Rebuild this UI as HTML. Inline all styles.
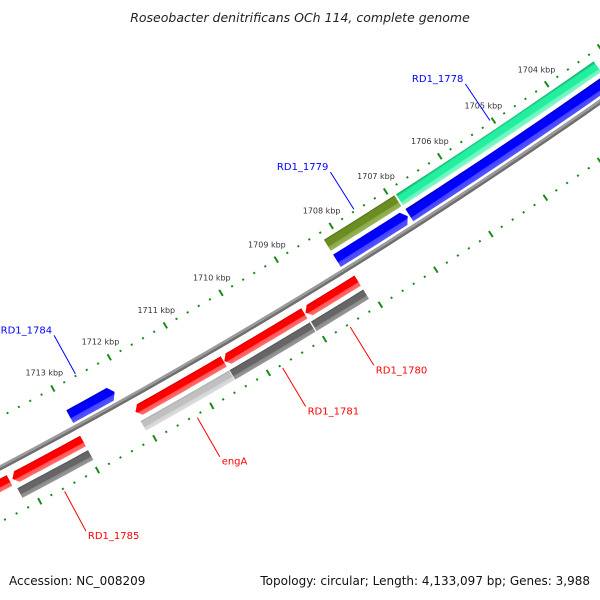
<!DOCTYPE html>
<html><head><meta charset="utf-8">
<style>
html,body{margin:0;padding:0;background:#fff;overflow:hidden;}
svg{display:block;font-family:"DejaVu Sans","Liberation Sans",sans-serif;}
</style></head>
<body>
<svg id="map" width="600" height="600" viewBox="0 0 600 600">
<rect width="600" height="600" fill="#fff"/>
<defs id="defs"></defs>
<g id="plot"></g>
<text x="300" y="22" text-anchor="middle" font-size="12.5" font-style="italic" fill="#222">Roseobacter denitrificans OCh 114, complete genome</text>
<text x="9" y="585" font-size="12" fill="#111">Accession: NC_008209</text>
<text x="590" y="585" text-anchor="end" font-size="12" fill="#111">Topology: circular; Length: 4,133,097 bp; Genes: 3,988</text>
</svg>
<script>
// ---- data (kbp) ----
const geneNames  = ['RD1_1778','RD1_1779','RD1_1784','RD1_1780','RD1_1781','engA','RD1_1785','RD1_1786'];
const geneHigh   = [1706.89, 1708.21, 1712.98, 1709.04, 1710.49, 1712.06, 1714.21, 1716.0];
const geneLow    = [1703.20, 1706.92, 1712.19, 1708.10, 1709.06, 1710.50, 1712.98, 1714.26];
const geneStrand = [1, 1, 1, -1, -1, -1, -1, -1];
const geneCog    = ['green','olive','none','dark','dark','light','dark','none'];
const geneLabeled= [true, true, true, true, true, true, true, false];
const tickKbp    = [1700,1701,1702,1703,1704,1705,1706,1707,1708,1709,1710,1711,1712,1713,1714,1715,1716];
const labelKbp   = [1704,1705,1706,1707,1708,1709,1710,1711,1712,1713];
const tickLabels = ['1704 kbp','1705 kbp','1706 kbp','1707 kbp','1708 kbp','1709 kbp','1710 kbp','1711 kbp','1712 kbp','1713 kbp'];

// ---- geometry ----
const NS='http://www.w3.org/2000/svg';
const R=5600, dPhi=65/5600, K0=1708, PHI0=58.03*Math.PI/180;
const CX=355-R*Math.cos(PHI0), CY=264-R*Math.sin(PHI0);
const FWD=[5,19.5], FWDCOG=[24,37], REV=[-21.5,-9.5], REVCOG=[-37,-26], OUT_TICK=45, IN_TICK=-48;
function phi(k){return PHI0+(k-K0)*dPhi;}
function pt(k,r){const a=phi(k);return [CX+(R-r)*Math.cos(a),CY+(R-r)*Math.sin(a)];}
const plot=document.getElementById('plot');
const defs=document.getElementById('defs');
function mk(tag,attrs,parent){const e=document.createElementNS(NS,tag);for(const a in attrs)e.setAttribute(a,attrs[a]);(parent||plot).appendChild(e);return e;}
function arcPts(k1,k2,r,n){const o=[];for(let i=0;i<=n;i++){o.push(pt(k1+(k2-k1)*i/n,r));}return o;}
let gid=0;
function grad(kMid,rOut,rIn,stops){
  const id='g'+(gid++);const a=pt(kMid,rOut),b=pt(kMid,rIn);
  const g=mk('linearGradient',{id:id,gradientUnits:'userSpaceOnUse',x1:a[0],y1:a[1],x2:b[0],y2:b[1]},defs);
  stops.forEach(s=>mk('stop',{offset:s[0],'stop-color':s[1]},g));
  return 'url(#'+id+')';
}
function bandPath(kLow,kHigh,rIn,rOut,arrow){
  const ah=5/65, rm=(rIn+rOut)/2;
  let lo=kLow,hi=kHigh;
  if(arrow===1) lo=Math.min(kLow+ah,kHigh);
  if(arrow===-1) hi=Math.max(kHigh-ah,kLow);
  const n=Math.max(4,Math.ceil((hi-lo)*8));
  let p=arcPts(hi,lo,rOut,n);
  if(arrow===1) p.push(pt(kLow,rm));
  p=p.concat(arcPts(lo,hi,rIn,n));
  if(arrow===-1) p.push(pt(kHigh,rm));
  return 'M'+p.map(q=>q[0].toFixed(2)+','+q[1].toFixed(2)).join('L')+'Z';
}
const palettes={
  blue:['#0000c8','#0000ff','#0000ff','#4444ff','#5555ff'],
  red:['#d00000','#ff0000','#ff0000','#ff5555','#ff7070'],
  green:['#18b870','#22f0a0','#22f0a0','#66f4bc','#88f8cc'],
  olive:['#56701c','#6b8e23','#6b8e23','#8aa84a','#98b45a'],
  dark:['#505050','#666666','#666666','#888888','#999999'],
  light:['#aaaaaa','#c0c0c0','#c0c0c0','#d4d4d4','#dddddd']
};
function fillFor(kMid,rIn,rOut,pal){
  const c=palettes[pal];
  return grad(kMid,rOut,rIn,[[0,c[0]],[0.15,c[1]],[0.6,c[2]],[0.65,c[3]],[1,c[4]]]);
}

const bb1=mk('path',{d:bandPath(1699,1717,0,2.5,0),fill:'#9a9a9a'});


const bb2=mk('path',{d:bandPath(1699,1717,-2.5,0,0),fill:'#6e6e6e'});



[OUT_TICK,IN_TICK].forEach(function(rt,ri){
  for(let k=1699;k<=1717.001;k+=0.2){
    const kk=Math.round(k*10)/10;
    const major=Math.abs(kk-Math.round(kk))<1e-6 && tickKbp.indexOf(Math.round(kk))>=0;
    const a=pt(kk,rt-(major?3.5:1)),b=pt(kk,rt+(major?3.5:1));
    const t=mk('line',{x1:a[0],y1:a[1],x2:b[0],y2:b[1],stroke:'#1a8a1a','stroke-width':2});
    
    
  }
});
labelKbp.forEach(function(k,i){
  const p=pt(k,OUT_TICK+18);
  const t=mk('text',{x:p[0].toFixed(1),y:(p[1]+3).toFixed(1),'text-anchor':'middle','font-size':8,fill:'#333'});
  t.textContent=tickLabels[i];
  
  
});

geneNames.forEach(function(name,i){
  const hi=geneHigh[i],lo=geneLow[i],s=geneStrand[i],mid=(hi+lo)/2;
  const tr=s>0?FWD:REV, ct=s>0?FWDCOG:REVCOG;
  const g=mk('path',{d:bandPath(lo,hi,tr[0],tr[1],s>0?1:-1),fill:fillFor(mid,tr[0],tr[1],s>0?'blue':'red')});
  
  
  if(geneCog[i]!=='none'){
    const c=mk('path',{d:bandPath(lo,hi,ct[0],ct[1],0),fill:fillFor(mid,ct[0],ct[1],geneCog[i])});
    
    
  }
  if(geneLabeled[i]){
    const col=s>0?'#0000ff':'#ff0000';
    const a=s>0?pt(mid,47):pt(mid,-51), b=s>0?pt(mid,91):pt(mid,-96);
    const l=mk('line',{x1:a[0],y1:a[1],x2:b[0],y2:b[1],stroke:col,'stroke-width':1});
    
    
    const t=mk('text',s>0?{x:(b[0]-2).toFixed(1),y:(b[1]-2).toFixed(1),'text-anchor':'end'}:{x:(b[0]+2).toFixed(1),y:(b[1]+8).toFixed(1),'text-anchor':'start'});
    t.setAttribute('font-size','10');
    t.setAttribute('fill',col);
    t.textContent=name;
    
    
  }
});
</script>
</body></html>
